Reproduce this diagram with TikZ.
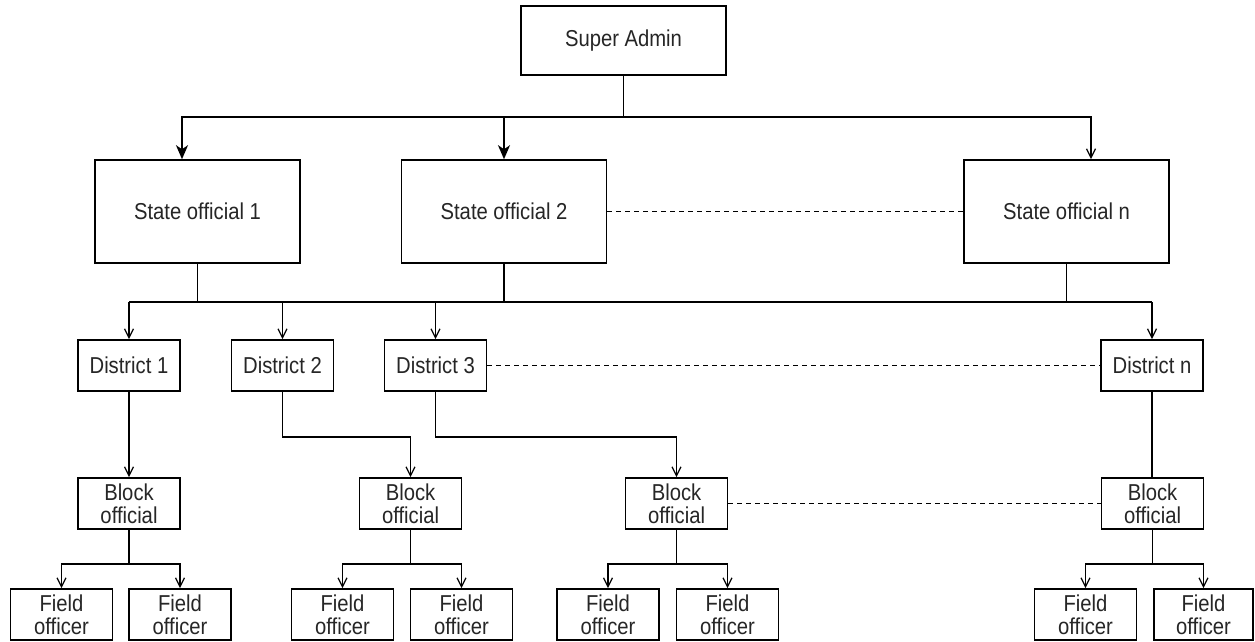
\documentclass[tikz,border=0pt]{standalone}
\usepackage{fontspec}
\setmainfont{Liberation Sans}[FakeStretch=0.88]
\usetikzlibrary{arrows.meta}
\tikzset{
  box/.style={draw=black, line width=1.6pt, fill=white, rectangle, inner sep=0pt, align=center,
    text=black!85, font=\fontsize{23}{23}\selectfont},
  bigbox/.style={box, minimum width=205pt, minimum height=103pt},
  midbox/.style={box, minimum width=102pt, minimum height=51pt},
  conn/.style={line width=1.5pt, draw=black},
  openarr/.style={conn, -{Straight Barb[length=9pt,width=9pt,line width=1.3pt]}},
  fillarr/.style={conn, -{Stealth[length=14pt,width=12pt,inset=4pt]}},
  dotline/.style={conn, dash pattern=on 5pt off 4pt}
}
\begin{document}
\begin{tikzpicture}[x=1pt,y=-1pt]
\useasboundingbox (0,0) rectangle (1255,641);
% nodes
\node[box, minimum width=205pt, minimum height=69pt] (sa) at (623.5,40.5) {Super Admin};
\node[bigbox] (s1) at (197.5,211.5) {State official 1};
\node[bigbox] (s2) at (504,211.5) {State official 2};
\node[bigbox] (sn) at (1066.5,211.5) {State official n};
\node[midbox] (d1) at (129,365.5) {District 1};
\node[midbox] (d2) at (282.5,365.5) {District 2};
\node[midbox] (d3) at (435.5,365.5) {District 3};
\node[midbox] (dn) at (1152,365.5) {District n};
\node[midbox] (b1) at (129,503.5) {Block\\official};
\node[midbox] (b2) at (410.5,503.5) {Block\\official};
\node[midbox] (b3) at (676.5,503.5) {Block\\official};
\node[midbox] (bn) at (1152.5,503.5) {Block\\official};
\node[midbox] (f1a) at (61.5,614.5) {Field\\officer};
\node[midbox] (f1b) at (180,614.5) {Field\\officer};
\node[midbox] (f2a) at (342.5,614.5) {Field\\officer};
\node[midbox] (f2b) at (461.5,614.5) {Field\\officer};
\node[midbox] (f3a) at (608,614.5) {Field\\officer};
\node[midbox] (f3b) at (727.5,614.5) {Field\\officer};
\node[midbox] (fna) at (1085.5,614.5) {Field\\officer};
\node[midbox, minimum width=99pt] (fnb) at (1203.5,614.5) {Field\\officer};
% level 1
\coordinate (j0) at (623.5,117);
\draw[conn] (sa.south) -- (j0);
\draw[fillarr] (j0) -| ([xshift=-15.5pt]s1.north);
\draw[fillarr] (j0) -| (s2.north);
\draw[openarr] (j0) -| ([xshift=24.5pt]sn.north);
\draw[dotline] (s2.east) -- (sn.west);
% level 2
\coordinate (j1) at (0,302);
\draw[conn] (d1.north |- j1) -- (dn.north |- j1);
\draw[conn] (s1.south) -- (s1.south |- j1);
\draw[conn] (s2.south) -- (s2.south |- j1);
\draw[conn] (sn.south) -- (sn.south |- j1);
\draw[openarr] (d1.north |- j1) -- (d1.north);
\draw[openarr] (d2.north |- j1) -- (d2.north);
\draw[openarr] (d3.north |- j1) -- (d3.north);
\draw[openarr] (dn.north |- j1) -- (dn.north);
\draw[dotline] (d3.east) -- (dn.west);
% level 3
\draw[openarr] (d1.south) -- (b1.north);
\draw[openarr] (d2.south) -- ++(0,45) -| (b2.north);
\draw[openarr] (d3.south) -- ++(0,45) -| (b3.north);
\draw[conn] (dn.south) -- (dn.south |- bn.north);
\draw[dotline] (b3.east) -- (bn.west);
% level 4
\draw[openarr] (b1.south) -- ++(0,34) -| (f1a.north);
\draw[openarr] (b1.south) -- ++(0,34) -| (f1b.north);
\draw[openarr] (b2.south) -- ++(0,34) -| (f2a.north);
\draw[openarr] (b2.south) -- ++(0,34) -| (f2b.north);
\draw[openarr] (b3.south) -- ++(0,34) -| (f3a.north);
\draw[openarr] (b3.south) -- ++(0,34) -| (f3b.north);
\draw[openarr] (bn.south) -- ++(0,34) -| (fna.north);
\draw[openarr] (bn.south) -- ++(0,34) -| (fnb.north);
\end{tikzpicture}
\end{document}
